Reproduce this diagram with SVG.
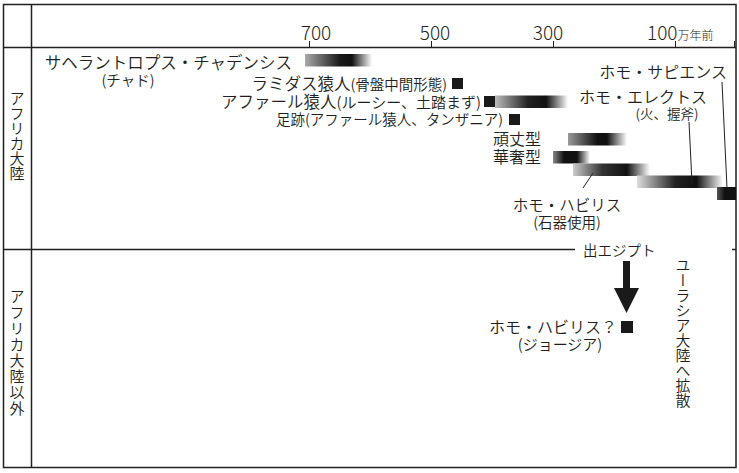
<svg xmlns="http://www.w3.org/2000/svg" width="739" height="473" viewBox="0 0 739 473">
<style>
text{font-family:"Noto Sans CJK JP","Noto Sans",sans-serif;fill:#231f20;font-weight:350;}
.ax{font-size:19px;font-weight:300;}
.m{font-size:16.5px;}
.s{font-size:14.5px;}
.v{font-size:15px;writing-mode:vertical-rl;}
.frame{stroke:#231f20;stroke-width:1.5;fill:none;}
.thin{stroke:#231f20;stroke-width:1;fill:none;}
</style>
<defs>
<linearGradient id="gSahel" x1="0" x2="1" y1="0" y2="0">
<stop offset="0" stop-color="#aaa"/><stop offset="0.52" stop-color="#1a1a1a"/><stop offset="0.7" stop-color="#111"/><stop offset="1" stop-color="#fff"/>
</linearGradient>
<linearGradient id="gAfar" x1="0" x2="1" y1="0" y2="0">
<stop offset="0" stop-color="#bbb"/><stop offset="0.45" stop-color="#222"/><stop offset="0.7" stop-color="#111"/><stop offset="1" stop-color="#fff"/>
</linearGradient>
<linearGradient id="gRobust" x1="0" x2="1" y1="0" y2="0">
<stop offset="0" stop-color="#999"/><stop offset="0.5" stop-color="#111"/><stop offset="0.66" stop-color="#111"/><stop offset="1" stop-color="#fff"/>
</linearGradient>
<linearGradient id="gGracile" x1="0" x2="1" y1="0" y2="0">
<stop offset="0" stop-color="#888"/><stop offset="0.3" stop-color="#111"/><stop offset="0.65" stop-color="#111"/><stop offset="1" stop-color="#fff"/>
</linearGradient>
<linearGradient id="gHabilis" x1="0" x2="1" y1="0" y2="0">
<stop offset="0" stop-color="#ccc"/><stop offset="0.38" stop-color="#333"/><stop offset="0.7" stop-color="#111"/><stop offset="1" stop-color="#fff"/>
</linearGradient>
<linearGradient id="gErectus" x1="0" x2="1" y1="0" y2="0">
<stop offset="0" stop-color="#ddd"/><stop offset="0.45" stop-color="#222"/><stop offset="0.7" stop-color="#111"/><stop offset="1" stop-color="#f5f5f5"/>
</linearGradient>
<linearGradient id="gSapiens" x1="0" x2="1" y1="0" y2="0">
<stop offset="0" stop-color="#555"/><stop offset="0.4" stop-color="#111"/><stop offset="1" stop-color="#111"/>
</linearGradient>
</defs>
<rect width="739" height="473" fill="#fff"/>

<g id="frame">
<rect class="frame" x="3.5" y="4.5" width="732.5" height="463"/>
<line class="frame" x1="31.5" y1="4.5" x2="31.5" y2="467.5"/>
<line class="frame" x1="3.5" y1="47.5" x2="736" y2="47.5"/>
<line class="frame" x1="3.5" y1="249.5" x2="575" y2="249.5"/>
<line class="frame" x1="732" y1="249.5" x2="736" y2="249.5"/>
</g>

<g id="axis">
<line class="thin" x1="309.5" y1="41" x2="309.5" y2="47"/>
<line class="thin" x1="431.5" y1="41" x2="431.5" y2="47"/>
<line class="thin" x1="553.5" y1="41" x2="553.5" y2="47"/>
<line class="thin" x1="675.5" y1="41" x2="675.5" y2="47"/>
<line class="thin" x1="734.5" y1="41" x2="734.5" y2="47"/>
<text class="ax" x="316" y="40" text-anchor="middle">700</text>
<text class="ax" x="435" y="40" text-anchor="middle">500</text>
<text class="ax" x="548" y="40" text-anchor="middle">300</text>
<text class="ax" x="647" y="40">100<tspan font-size="12">万年前</tspan></text>
</g>

<g id="region-labels">
<text class="v" x="17" y="136" text-anchor="middle">アフリカ大陸</text>
<text class="v" x="17" y="353" text-anchor="middle" font-size="16" letter-spacing="1">アフリカ大陸以外</text>
</g>

<g id="sahelanthropus">
<rect x="305" y="54" width="67" height="12.5" fill="url(#gSahel)"/>
<text class="m" x="292" y="69" text-anchor="end">サヘラントロプス・チャデンシス</text>
<text x="128" y="86" text-anchor="middle" font-size="14.5">(チャド)</text>
</g>

<g id="ramidus">
<rect x="452" y="78" width="11" height="11" fill="#1a1a1a"/>
<text x="447" y="90" text-anchor="end" font-size="16.5">ラミダス猿人<tspan font-size="14.5">(骨盤中間形態)</tspan></text>
</g>

<g id="afarensis">
<rect x="484" y="96" width="11" height="11" fill="#1a1a1a"/>
<rect x="495" y="95.5" width="73" height="12.5" fill="url(#gAfar)"/>
<text x="481" y="108" text-anchor="end" font-size="16.5">アファール猿人<tspan font-size="15">(ルーシー、土踏まず)</tspan></text>
</g>

<g id="footprint">
<rect x="509" y="114" width="11" height="11" fill="#1a1a1a"/>
<text class="s" x="503" y="125" text-anchor="end">足跡(アファール猿人、タンザニア)</text>
</g>

<g id="robust">
<rect x="568" y="133" width="59" height="12.5" fill="url(#gRobust)"/>
<text x="493" y="145" font-size="16">頑丈型</text>
</g>

<g id="gracile">
<rect x="553" y="151" width="37" height="12.5" fill="url(#gGracile)"/>
<text x="493" y="163" font-size="16">華奢型</text>
</g>

<g id="habilis">
<rect x="573" y="163.5" width="77" height="12.5" fill="url(#gHabilis)"/>
<text x="567" y="211" text-anchor="middle" font-size="15.5">ホモ・ハビリス</text>
<text x="567" y="228" text-anchor="middle" font-size="14.5">(石器使用)</text>
</g>

<g id="erectus">
<rect x="637" y="175.5" width="85" height="12.5" fill="url(#gErectus)"/>
<text x="707" y="103" text-anchor="end" font-size="16">ホモ・エレクトス</text>
<text x="667" y="119" text-anchor="middle" font-size="13.5">(火、握斧)</text>
</g>

<g id="sapiens">
<rect x="717" y="187" width="19" height="13" fill="url(#gSapiens)"/>
<text x="727" y="78" text-anchor="end" font-size="16">ホモ・サピエンス</text>
</g>

<g id="georgia">
<rect x="621" y="321" width="12" height="12" fill="#1a1a1a"/>
<text x="617" y="333" text-anchor="end" font-size="16">ホモ・ハビリス？</text>
<text x="560" y="350" text-anchor="middle" font-size="15">(ジョージア)</text>
</g>

<g id="exodus">
<text x="583" y="256" font-size="14.5">出エジプト</text>
</g>

<g id="eurasia">
<text class="v" x="683" y="333" text-anchor="middle" font-size="14.5">ユーラシア大陸へ拡散</text>
</g>

<g id="connectors">
<line class="thin" x1="583" y1="188" x2="593" y2="173"/>
<line class="thin" x1="689" y1="122" x2="692" y2="183"/>
<line class="thin" x1="722" y1="82" x2="727" y2="188"/>
<rect x="623" y="261" width="7" height="28" fill="#1a1a1a"/>
<polygon points="614,288 639,288 626.5,313" fill="#1a1a1a"/>
</g>
</svg>
